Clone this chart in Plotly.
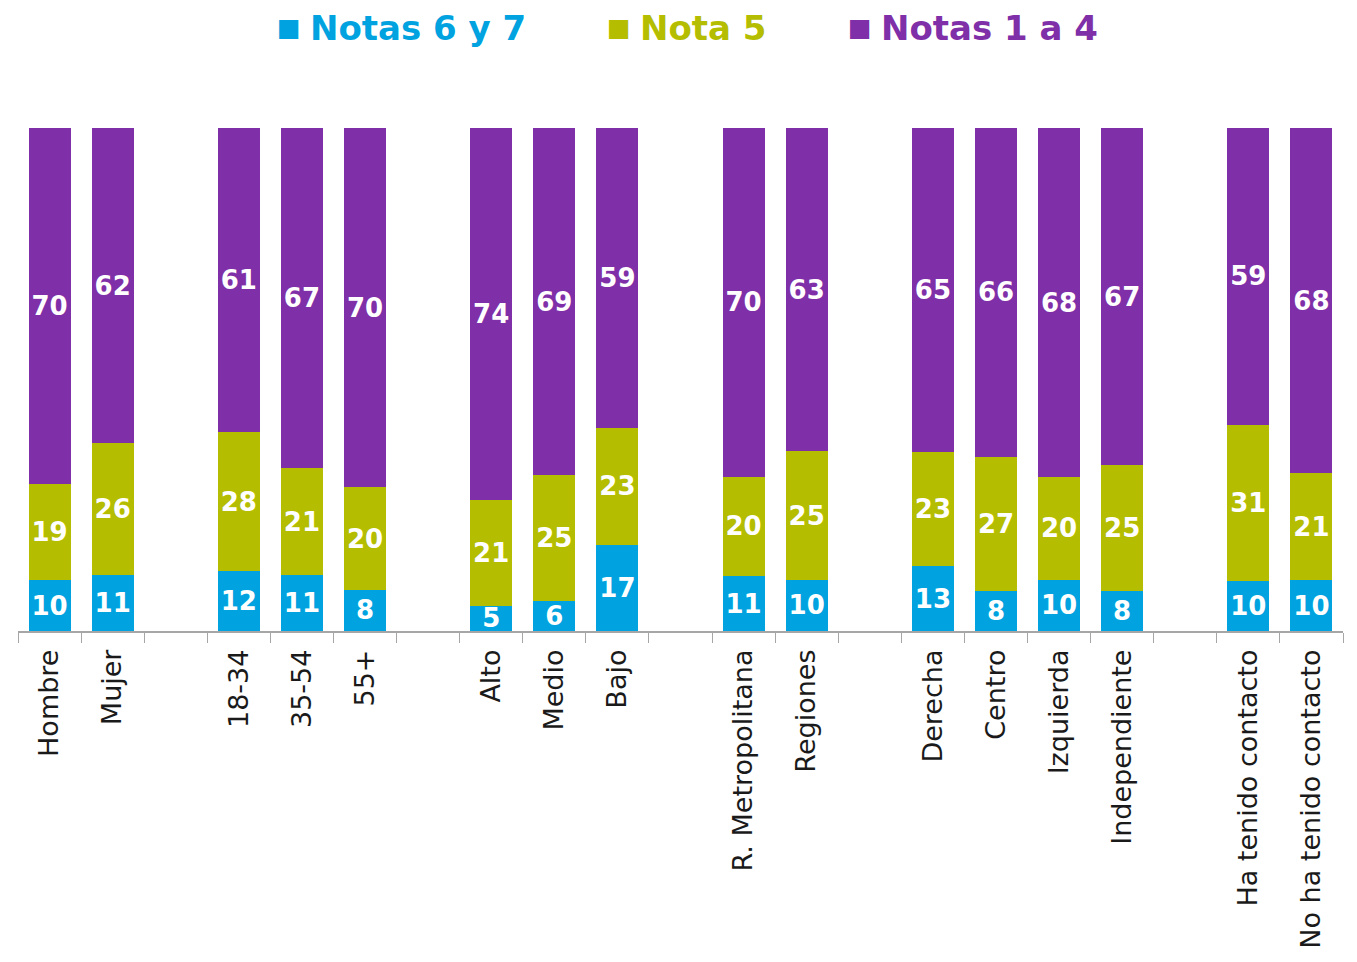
import plotly.graph_objects as go

# categories (blank slots are spacers between groups)
categories = ["Hombre", "Mujer", " ",
              "18-34", "35-54", "55+", "  ",
              "Alto", "Medio", "Bajo", "   ",
              "R. Metropolitana", "Regiones", "    ",
              "Derecha", "Centro", "Izquierda", "Independiente", "     ",
              "Ha tenido contacto", "No ha tenido contacto"]

notas_6_7 = [10, 11, None, 12, 11, 8, None, 5, 6, 17, None, 11, 10, None, 13, 8, 10, 8, None, 10, 10]
nota_5 = [19, 26, None, 28, 21, 20, None, 21, 25, 23, None, 20, 25, None, 23, 27, 20, 25, None, 31, 21]
notas_1_4 = [70, 62, None, 61, 67, 70, None, 74, 69, 59, None, 70, 63, None, 65, 66, 68, 67, None, 59, 68]

series_names = ["Notas 6 y 7", "Nota 5", "Notas 1 a 4"]
colors = ["#00A3E0", "#B5BD00", "#7F2FA7"]

W, H = 1357, 962
OFF = 8  # page body margin
ML, MR, MT, MB = 18 - OFF, 14 + OFF, 128 - OFF, 331 + OFF
PW, PH = W - ML - MR, H - MT - MB


def px_x(page_x):
    return (page_x - OFF - ML) / PW


def px_y(page_y):
    return 1 + (MT - (page_y - OFF)) / PH


fig = go.Figure()
for name, vals, col in zip(series_names, [notas_6_7, nota_5, notas_1_4], colors):
    fig.add_trace(go.Bar(
        x=categories, y=vals, name=name, marker=dict(color=col, line=dict(width=0)),
        text=vals, textposition="inside", insidetextanchor="middle", textangle=0,
        insidetextfont=dict(family="DejaVu Sans", size=26, color="white", weight=700),
    ))

# legend drawn as coloured squares + text
legend_sq = [276, 606, 847]
legend_tx = [309, 639, 880]
for name, col, sx, tx in zip(series_names, colors, legend_sq, legend_tx):
    fig.add_annotation(
        x=px_x(sx), y=px_y(28), xref="paper", yref="paper", xanchor="left", yanchor="middle",
        text="■", showarrow=False, borderpad=0,
        font=dict(family="DejaVu Sans", size=25, color=col),
    )
    fig.add_annotation(
        x=px_x(tx), y=px_y(28), xref="paper", yref="paper", xanchor="left", yanchor="middle",
        text=name, showarrow=False, borderpad=0,
        font=dict(family="DejaVu Sans", size=34, color=col, weight=700),
    )

fig.update_layout(
    width=W, height=H, barmode="stack", barnorm="percent", bargap=0.333,
    plot_bgcolor="white", paper_bgcolor="white", showlegend=False,
    margin=dict(l=ML, r=MR, t=MT, b=MB),
    uniformtext=dict(minsize=26, mode="show"),
    xaxis=dict(type="category", tickson="boundaries", ticks="outside", ticklen=10,
               tickcolor="#A6A6A6", showline=True, linecolor="#A6A6A6", linewidth=1.5,
               tickangle=-90, ticklabelstandoff=6,
               tickfont=dict(family="DejaVu Sans", size=27, color="#1A1A1A"),
               showgrid=False),
    yaxis=dict(range=[0, 100], visible=False),
)

fig.write_html("out.html")
